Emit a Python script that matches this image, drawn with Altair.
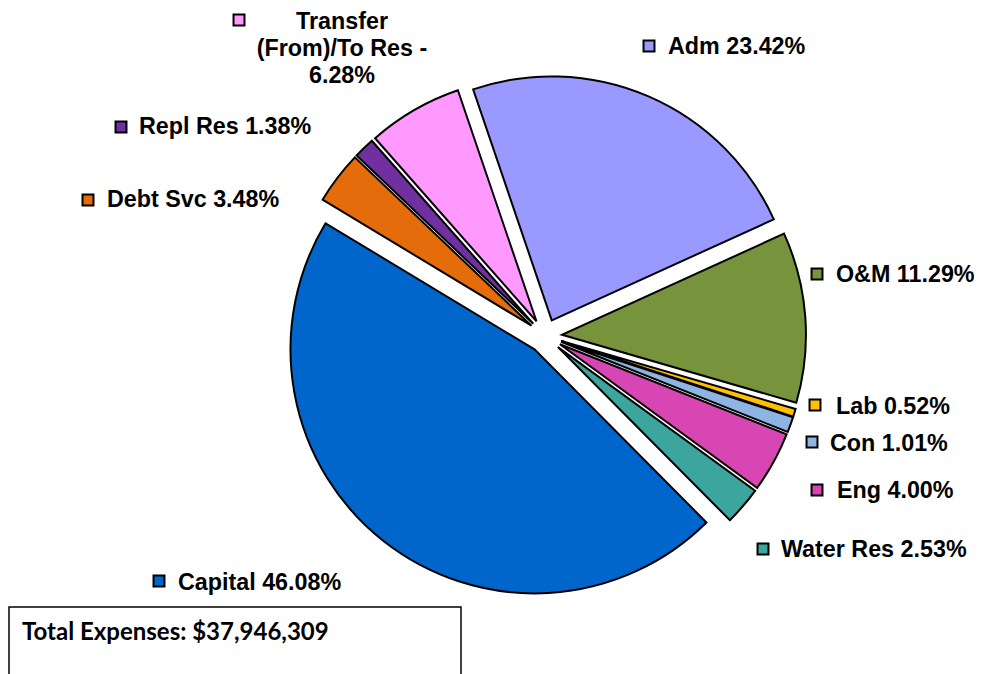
import math
import altair as alt
import pandas as pd

# ---- data ----
cats = ["Adm", "O&M", "Lab", "Con", "Eng", "Water Res", "Capital", "Debt Svc", "Repl Res", "Transfer"]
pct = [23.42, 11.29, 0.52, 1.01, 4.00, 2.53, 46.08, 3.48, 1.38, 6.28]
colors = ["#9999FF", "#77933C", "#FFC000", "#8EB4E3", "#D846B4", "#3BA59E",
          "#0066CC", "#E46C0A", "#7030A0", "#FF99FF"]
labels = ["Adm 23.42%", "O&M 11.29%", "Lab 0.52%", "Con 1.01%", "Eng 4.00%",
          "Water Res 2.53%", "Capital 46.08%", "Debt Svc 3.48%", "Repl Res 1.38%",
          "Transfer\n(From)/To Res -\n6.28%"]
total_text = "Total Expenses: $37,946,309"

# ---- layout ----
W, H = 966, 666
CX, CY = 537, 328          # pie centre
R = 244                    # pie radius
D = 17                     # explosion distance
A0 = -0.328                # start angle (radians, clockwise from 12 o'clock)
FS = 23.3

# label anchor (square key) positions and text start positions
key_x = [641, 809, 807, 804, 809, 755, 151, 80, 113, 231]
key_y = [38, 266, 397, 434, 482, 541, 573, 192, 119, 12]
txt_x = [660, 828, 828, 822, 829, 773, 170, 99, 131, 334]
txt_y = [39, 267, 399, 436, 483, 542, 575, 192, 119, 21]

pie_df = pd.DataFrame({"cat": cats, "pct": pct, "order": list(range(len(cats)))})

pie = (
    alt.Chart(pie_df)
    .transform_joinaggregate(total="sum(pct)")
    .transform_window(cum="sum(pct)", sort=[alt.SortField("order")], frame=[None, 0])
    .transform_calculate(
        mid=f"{A0} + 2*PI*(datum.cum - datum.pct/2)/datum.total",
    )
    .transform_calculate(
        px=f"{CX} + {D}*sin(datum.mid)",
        py=f"{CY} - {D}*cos(datum.mid)",
    )
    .mark_arc(outerRadius=R, stroke="black", strokeWidth=2)
    .encode(
        theta=alt.Theta("pct:Q", stack=True,
                        scale=alt.Scale(range=[A0, A0 + 2 * math.pi])),
        order=alt.Order("order:Q"),
        color=alt.Color("cat:N", scale=alt.Scale(domain=cats, range=colors), legend=None),
        x=alt.X("px:Q", scale=None),
        y=alt.Y("py:Q", scale=None),
    )
)

lab_df = pd.DataFrame({
    "cat": cats, "label": labels,
    "kx": key_x, "ky": key_y, "tx": txt_x, "ty": txt_y,
})

keys = alt.Chart(lab_df).mark_square(size=120, stroke="black", strokeWidth=2, opacity=1).encode(
    x=alt.X("kx:Q", scale=None),
    y=alt.Y("ky:Q", scale=None),
    color=alt.Color("cat:N", scale=alt.Scale(domain=cats, range=colors), legend=None),
)

texts = alt.Chart(lab_df).transform_filter("datum.cat != 'Transfer'").mark_text(
    align="left", baseline="middle", font="Liberation Sans", fontWeight="bold",
    fontSize=FS, color="black",
).encode(
    x=alt.X("tx:Q", scale=None),
    y=alt.Y("ty:Q", scale=None),
    text="label:N",
)

transfer_text = alt.Chart(lab_df).transform_filter("datum.cat == 'Transfer'").mark_text(
    align="center", baseline="alphabetic", font="Liberation Sans", fontWeight="bold",
    fontSize=FS, color="black", lineBreak="\n", lineHeight=27,
).encode(
    x=alt.X("tx:Q", scale=None),
    y=alt.Y("ty:Q", scale=None),
    text="label:N",
)

box = alt.Chart(pd.DataFrame({"t": [total_text]})).mark_rect(
    fill="white", stroke="black", strokeWidth=1.5,
).encode(
    x=alt.value(1), x2=alt.value(453), y=alt.value(599), y2=alt.value(720),
)

total = alt.Chart(pd.DataFrame({"t": [total_text]})).mark_text(
    align="left", baseline="middle", font="Lato", fontWeight="bold",
    fontSize=24, color="black",
).encode(
    x=alt.value(14), y=alt.value(625), text="t:N",
)

chart = (
    alt.layer(pie, keys, texts, transfer_text, box, total)
    .properties(width=W, height=H, padding=0, autosize=alt.AutoSizeParams(type="none"))
    .configure_view(stroke=None)
)

chart.save("out.html", embed_options={"renderer": "svg", "actions": False})
